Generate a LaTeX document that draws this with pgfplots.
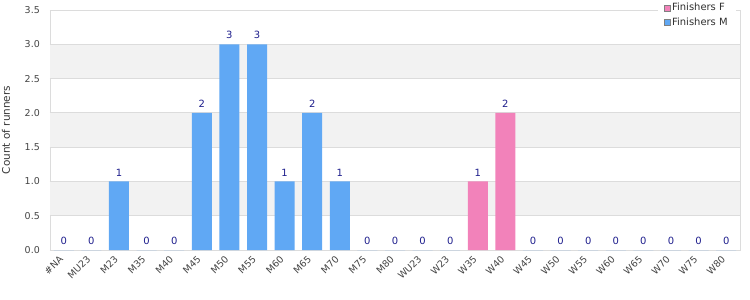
\documentclass[border=0pt]{standalone}
\usepackage{fontspec}
\setmainfont{DejaVu Sans}
\usepackage{graphicx}
\usepackage{pgfplots}
\pgfplotsset{compat=1.18}
\definecolor{barM}{RGB}{96,168,244}
\definecolor{barF}{RGB}{242,130,186}
\definecolor{lblblue}{RGB}{30,30,140}
\definecolor{framec}{RGB}{220,220,220}
\definecolor{band}{RGB}{242,242,242}
\definecolor{ticktext}{RGB}{68,68,68}
\begin{document}
\begin{tikzpicture}
\begin{axis}[
  scale only axis, width=690bp, height=240bp,
  xmin=-0.5, xmax=24.5, ymin=0, ymax=3.5,
  ytick={0,0.5,1,1.5,2,2.5,3,3.5},
  xtick={0,...,24},
  xticklabels={\rotatebox{45}{\#NA},\rotatebox{44}{MU23},\rotatebox{45}{M23},\rotatebox{44}{M35},\rotatebox{45}{M40},\rotatebox{44}{M45},\rotatebox{45}{M50},\rotatebox{44}{M55},\rotatebox{45}{M60},\rotatebox{44}{M65},\rotatebox{45}{M70},\rotatebox{44}{M75},\rotatebox{45}{M80},\rotatebox{44}{WU23},\rotatebox{45}{W23},\rotatebox{44}{W35},\rotatebox{45}{W40},\rotatebox{44}{W45},\rotatebox{45}{W50},\rotatebox{44}{W55},\rotatebox{45}{W60},\rotatebox{44}{W65},\rotatebox{45}{W70},\rotatebox{44}{W75},\rotatebox{45}{W80}},
  axis line style={framec, line width=0.8bp},
  major tick length=0pt,
  ymajorgrids, grid style={framec, line width=0.8bp},
  /pgf/number format/assume math mode=true,
  yticklabel={\pgfmathprintnumber[fixed,fixed zerofill,precision=1]{\tick}},
  y tick label style={font=\fontsize{9.5}{11}\selectfont, text=ticktext, inner sep=0pt, anchor=east, xshift=-10bp},
  x tick label style={font=\fontsize{9.5}{11}\selectfont, text=ticktext, inner sep=0pt, anchor=north east},
  xticklabel shift=5bp,
  ylabel={Count of runners},
  every axis y label/.style={at={(axis description cs:0,0.5)}, xshift=-44bp, rotate=90, anchor=center, font=\fontsize{10.5}{12}\selectfont, text=ticktext!80!black},
  legend style={at={(rel axis cs:0.994,1.045)}, anchor=north east, draw=none, fill=white, font=\fontsize{10}{12}\selectfont, text=ticktext!70!black, inner xsep=6bp, inner ysep=2bp, row sep=1bp},
  legend cell align=left,
  nodes near coords,
  every node near coord/.append style={font=\fontsize{10}{12}\selectfont, text=lblblue, anchor=south, inner sep=0pt, yshift=5bp},
]
\fill[band] (axis cs:-0.5,0.506) rectangle (axis cs:24.5,0.994);
\fill[band] (axis cs:-0.5,1.506) rectangle (axis cs:24.5,1.994);
\fill[band] (axis cs:-0.5,2.506) rectangle (axis cs:24.5,2.994);
\addplot[ybar, bar width=20bp, bar shift=0pt, fill=barF, draw=none,
  legend image code/.code={\draw[fill=barF, draw=gray, line width=0.6bp] (0bp,-3bp) rectangle (6bp,3bp);}]
  coordinates {(15,1) (16,2)};
\addlegendentry{Finishers F}
\addplot[ybar, bar width=20bp, bar shift=0pt, fill=barM, draw=none,
  legend image code/.code={\draw[fill=barM, draw=gray, line width=0.6bp] (0bp,-3bp) rectangle (6bp,3bp);}]
  coordinates {(0,0) (1,0) (2,1) (3,0) (4,0) (5,2) (6,3) (7,3) (8,1) (9,2) (10,1) (11,0) (12,0) (13,0) (14,0) (17,0) (18,0) (19,0) (20,0) (21,0) (22,0) (23,0) (24,0)};
\addlegendentry{Finishers M}
\end{axis}
\pgfresetboundingbox
\path (-50bp,-50bp) rectangle (700bp,250bp);
\end{tikzpicture}
\end{document}
